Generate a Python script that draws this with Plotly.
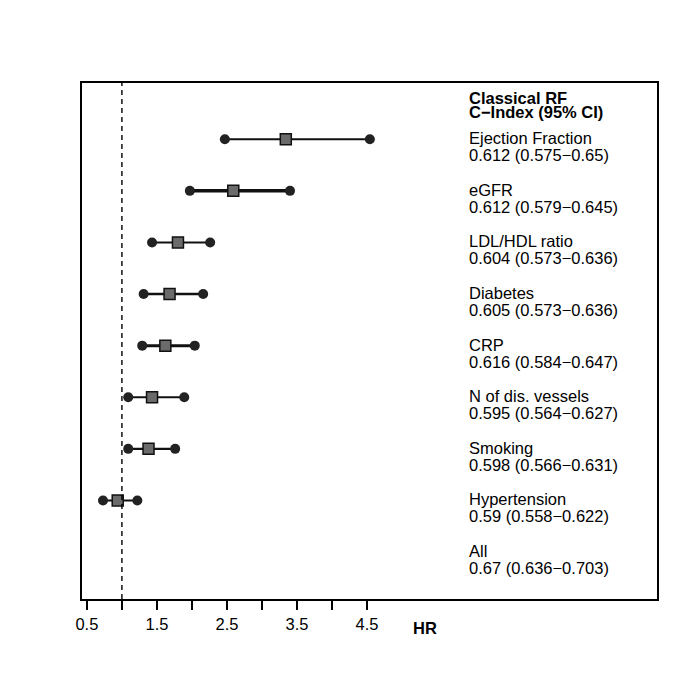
import plotly.graph_objects as go

# forest plot data, top row first
labels = ["Ejection Fraction", "eGFR", "LDL/HDL ratio", "Diabetes", "CRP",
          "N of dis. vessels", "Smoking", "Hypertension", "All"]
cindex = ["0.612 (0.575\u22120.65)", "0.612 (0.579\u22120.645)", "0.604 (0.573\u22120.636)",
          "0.605 (0.573\u22120.636)", "0.616 (0.584\u22120.647)", "0.595 (0.564\u22120.627)",
          "0.598 (0.566\u22120.631)", "0.59 (0.558\u22120.622)", "0.67 (0.636\u22120.703)"]
hr = [3.34, 2.59, 1.80, 1.68, 1.62, 1.43, 1.38, 0.94, None]
hr_lo = [2.47, 1.97, 1.43, 1.31, 1.29, 1.09, 1.09, 0.73, None]
hr_hi = [4.54, 3.40, 2.26, 2.16, 2.04, 1.89, 1.76, 1.22, None]
line_w = [2, 3.5, 2, 2.5, 3, 2, 2.2, 2]

tick_vals = [0.5, 1, 1.5, 2, 2.5, 3, 3.5, 4, 4.5]
tick_text = ["0.5", "", "1.5", "", "2.5", "", "3.5", "", "4.5"]

n = len(labels)
rows = [n - 1 - i for i in range(n)]
FONT = "Liberation Sans, Arial, sans-serif"
FS = 16.5
TEXT_X = 5.93

fig = go.Figure()

for i in range(n):
    if hr[i] is None:
        continue
    fig.add_trace(go.Scatter(x=[hr_lo[i], hr_hi[i]], y=[rows[i], rows[i]], mode="lines+markers",
                             line=dict(color="#111", width=line_w[i]),
                             marker=dict(symbol="circle", size=10, color="#222"),
                             showlegend=False, hoverinfo="skip"))
    fig.add_trace(go.Scatter(x=[hr[i]], y=[rows[i]], mode="markers",
                             marker=dict(symbol="square", size=11, color="#6b6b6b",
                                         line=dict(color="#111", width=1.5)),
                             showlegend=False))

# reference line at HR = 1
fig.add_shape(type="line", xref="x", yref="paper", x0=1, x1=1, y0=0, y1=1,
              line=dict(color="black", width=1.4, dash="5px,4px"))

annos = []
annos.append(dict(x=TEXT_X, y=rows[0], yshift=41, text="<b>Classical RF</b>"))
annos.append(dict(x=TEXT_X, y=rows[0], yshift=27, text="<b>C\u2212Index (95% CI)</b>"))
for i in range(n):
    annos.append(dict(x=TEXT_X, y=rows[i], yshift=1, text=labels[i]))
    annos.append(dict(x=TEXT_X, y=rows[i], yshift=-16, text=cindex[i]))
for a in annos:
    a.update(xref="x", yref="y", xanchor="left", yanchor="middle", showarrow=False,
             font=dict(family=FONT, size=FS, color="black"))
    fig.add_annotation(**a)

fig.add_annotation(x=5.33, y=-0.056, xref="x", yref="paper", text="<b>HR</b>",
                   showarrow=False, xanchor="center", yanchor="middle",
                   font=dict(family=FONT, size=FS, color="black"))

fig.update_layout(
    width=700, height=700,
    margin=dict(l=74, r=51, t=75, b=109),
    plot_bgcolor="white", paper_bgcolor="white",
    font=dict(family=FONT, size=FS, color="black"),
    xaxis=dict(range=[0.43, 8.64], tickvals=tick_vals, ticktext=tick_text,
               ticks="outside", ticklen=9, tickwidth=1.5, tickcolor="black",
               showline=True, linecolor="black", linewidth=2, mirror=True,
               showgrid=False, zeroline=False, tickfont=dict(size=FS)),
    yaxis=dict(range=[-0.91, n + 0.09], showticklabels=False, ticks="",
               showline=True, linecolor="black", linewidth=2, mirror=True,
               showgrid=False, zeroline=False),
)

fig.write_html("out.html")
